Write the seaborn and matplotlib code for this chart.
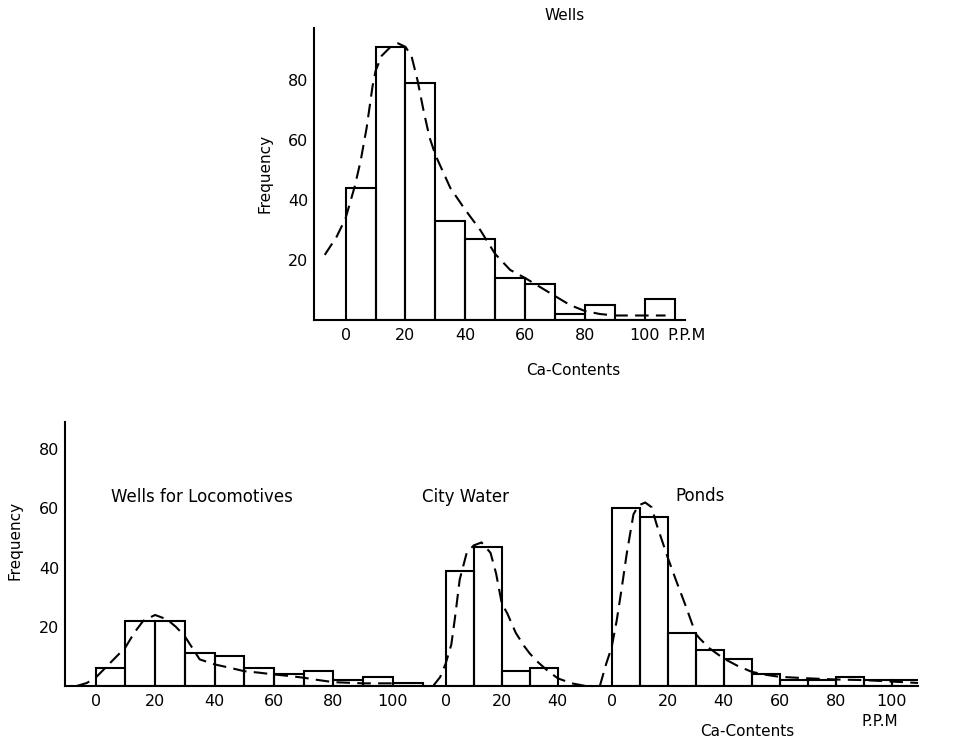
import numpy as np
import pandas as pd
import matplotlib
matplotlib.use("Agg")
import matplotlib.pyplot as plt
import seaborn as sns

# ---------------- data ----------------
bin_edges = [0, 10, 20, 30, 40, 50, 60, 70, 80, 90, 100, 110]

wells_counts = [44, 91, 79, 33, 27, 14, 12, 2, 5, 0, 7]
wells_curve_x = [-7, -3, 0, 3, 5, 7, 9, 10, 12, 15, 17.5, 20, 22, 24, 26, 28, 30, 35,
                 40, 45, 50, 55, 60, 65, 70, 75, 80, 85, 90, 95, 100, 107]
wells_curve_y = [21.7, 27.8, 34, 44.4, 53, 64, 78, 83, 88, 91, 92.2, 91, 88, 80, 70, 61, 55, 44,
                 36.7, 30, 22, 16.7, 14, 11, 8, 5, 3, 2, 1.5, 1.5, 1.5, 1.5]

loco_counts = [6, 22, 22, 11, 10, 6, 4, 5, 2, 3, 1]
loco_curve_x = [-6.4, -3, 0, 5, 10, 13, 16, 20, 24, 27, 30, 35, 40, 45, 50, 55, 60, 65,
                70, 75, 80, 85, 90, 95, 100]
loco_curve_y = [0, 1, 2.8, 7.9, 13, 18, 22, 24, 22.5, 20, 16.8, 9, 7.3, 6.2, 5, 4.5, 3.9, 3.4,
                2.8, 2, 1.3, 1.1, 0.9, 0.9, 0.9]

city_edges = [0, 10, 20, 30, 40]
city_counts = [39, 47, 5, 6]
city_curve_x = [-4.5, -2, 0, 2, 3.3, 5, 7.5, 10, 12.8, 16, 18, 20, 22, 25, 28, 30, 33,
                36, 40, 45, 50]
city_curve_y = [0, 3, 7.6, 14, 23, 36, 45, 47.5, 48.5, 45, 38, 28, 24.5, 18, 13.5, 11, 8,
                5.5, 2.6, 0.9, 0]

ponds_counts = [60, 57, 18, 12, 9, 4, 2, 2, 3, 2, 2]
ponds_curve_x = [-4.2, -1.9, 0, 1.8, 3.6, 5.4, 7.8, 9.6, 12, 14.3, 16, 20, 23, 26.6, 30,
                 31.5, 35, 40, 45, 50, 55, 60, 70, 80, 90, 100, 110]
ponds_curve_y = [0, 7.6, 13, 22, 33, 44.7, 58, 61, 62, 60.4, 54.8, 43.5, 35.7, 26.7, 17.7,
                 16, 12.7, 9.3, 6.8, 4.8, 3.8, 3.1, 2.6, 2.2, 2, 1.5, 1]

x_ticks_full = [0, 20, 40, 60, 80, 100]
x_ticks_city = [0, 20, 40]
y_ticks = [20, 40, 60, 80]

# ---------------- style ----------------
sns.set_theme(style="white")
plt.rcParams["font.family"] = ["DejaVu Sans"]
plt.rcParams["axes.linewidth"] = 1.5
for k in ["text.color", "axes.labelcolor", "xtick.color", "ytick.color", "axes.edgecolor"]:
    plt.rcParams[k] = "black"

W, H = 957, 747
fig = plt.figure(figsize=(W / 100, H / 100), dpi=100)


def box(l, r, top, bot):
    return [l / W, 1 - bot / H, (r - l) / W, (bot - top) / H]


def draw_hist(ax, edges, counts, cx, cy):
    e = [float(v) for v in edges]
    centers = [(a + b) / 2 for a, b in zip(e[:-1], e[1:])]
    df = pd.DataFrame({"x": centers, "w": [float(c) for c in counts]})
    sns.histplot(data=df, x="x", weights="w", bins=e, ax=ax, fill=False,
                 color="black", linewidth=1.5, element="bars")
    sns.lineplot(x=cx, y=cy, ax=ax, color="black", linewidth=1.5, sort=False,
                 estimator=None)
    ax.lines[-1].set_linestyle((0, (6.5, 3.5)))


def style_ax(ax, left=True):
    ax.set_xlabel("")
    ax.set_ylabel("")
    for s in ["top", "right"]:
        ax.spines[s].set_visible(False)
    ax.spines["left"].set_visible(left)
    ax.tick_params(axis="x", length=0, labelsize=11.5, pad=6, colors="black")
    ax.grid(False)


# ---- top: Wells ----
ax = fig.add_axes(box(314, 685, 28, 320))
draw_hist(ax, bin_edges, wells_counts, wells_curve_x, wells_curve_y)
ax.set_xlim(-10.6, 113.5)
ax.set_ylim(0, 97.3)
style_ax(ax)
ax.set_xticks(x_ticks_full)
ax.set_yticks(y_ticks)
ax.set_yticks([10, 30, 50, 70], minor=True)
ax.tick_params(axis="y", which="both", direction="in", length=6, width=1.3,
               labelsize=11.5, pad=4, colors="black")
fig.text(667 / W, 1 - 335 / H, "P.P.M", ha="left", va="center", fontsize=11.5)
fig.text(565 / W, 1 - 15 / H, "Wells", ha="center", va="center", fontsize=11)
fig.text(265 / W, 1 - 173 / H, "Frequency", rotation=90, ha="center", va="center", fontsize=11)
fig.text(573 / W, 1 - 371 / H, "Ca-Contents", ha="center", va="center", fontsize=11)

# ---- bottom: Wells for Locomotives ----
ax1 = fig.add_axes(box(65, 425, 421.7, 686))
draw_hist(ax1, bin_edges, loco_counts, loco_curve_x, loco_curve_y)
ax1.set_xlim(-10.3, 110.8)
ax1.set_ylim(0, 89.3)
style_ax(ax1)
ax1.set_xticks(x_ticks_full)
ax1.set_yticks(y_ticks)
ax1.tick_params(axis="y", direction="in", length=4, width=1.2, labelsize=11.5, pad=4,
                colors="black")

# ---- City Water ----
ax2 = fig.add_axes(box(425, 592, 421.7, 686))
draw_hist(ax2, city_edges, city_counts, city_curve_x, city_curve_y)
ax2.set_xlim(-7.4, 52.25)
ax2.set_ylim(0, 89.3)
style_ax(ax2, left=False)
ax2.set_xticks(x_ticks_city)
ax2.set_yticks([])

# ---- Ponds ----
ax3 = fig.add_axes(box(592, 918, 421.7, 686))
draw_hist(ax3, bin_edges, ponds_counts, ponds_curve_x, ponds_curve_y)
ax3.set_xlim(-7.0, 109.4)
ax3.set_ylim(0, 89.3)
style_ax(ax3, left=False)
ax3.set_xticks(x_ticks_full)
ax3.set_yticks([])

fig.text(202 / W, 1 - 497 / H, "Wells for Locomotives", ha="center", va="center", fontsize=12)
fig.text(466 / W, 1 - 497 / H, "City Water", ha="center", va="center", fontsize=12)
fig.text(700 / W, 1 - 496 / H, "Ponds", ha="center", va="center", fontsize=12)
fig.text(15 / W, 1 - 540 / H, "Frequency", rotation=90, ha="center", va="center", fontsize=11)
fig.text(880 / W, 1 - 722 / H, "P.P.M", ha="center", va="center", fontsize=11)
fig.text(747 / W, 1 - 732 / H, "Ca-Contents", ha="center", va="center", fontsize=11)

fig.savefig("out.png", dpi=100, facecolor="white")
